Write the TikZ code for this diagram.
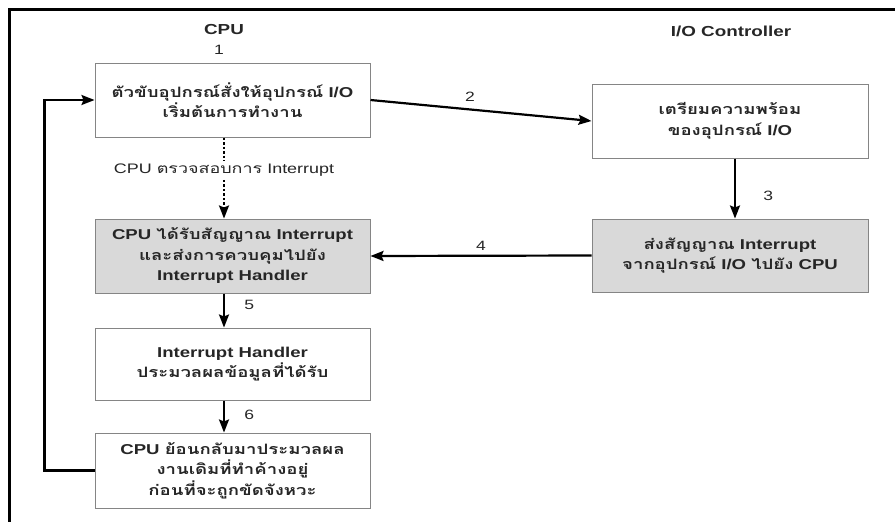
\documentclass[tikz,border=0pt]{standalone}
\usepackage{fontspec}
\setmainfont{Liberation Sans}[FakeStretch=1.3]
\newfontfamily\thf[Script=Thai,FakeStretch=1.3]{Loma}
\usetikzlibrary{arrows.meta}
\definecolor{boxline}{HTML}{858585}
\definecolor{boxgrey}{HTML}{D9D9D9}
\tikzset{
  box/.style={draw=boxline, line width=1pt, minimum width=275pt, align=center,
    font=\fontsize{14.3}{20.5}\selectfont\bfseries, text=black!85},
  greybox/.style={box, fill=boxgrey},
  arr/.style={line width=2.2pt, -{Stealth[length=13pt,width=10pt,inset=2pt]}},
  dashln/.style={line width=2.2pt, dash pattern=on 2.5pt off 2pt},
  dasharr/.style={dashln, -{Stealth[length=13pt,width=10pt,inset=2pt]}},
  head/.style={font=\fontsize{14.5}{16}\selectfont\bfseries, text=black!85},
  num/.style={font=\fontsize{13.5}{15}\selectfont, text=black!85},
  lbl/.style={font=\fontsize{13.8}{16}\selectfont, text=black!85}
}
\begin{document}
\begin{tikzpicture}[x=1pt,y=-1pt]
\useasboundingbox (0,0) rectangle (895,522);
\fill[white] (0,0) rectangle (895,522);
\draw[line width=3pt] (9,522) -- (9,9) -- (895,9);

\coordinate (cx) at (224,0);
\coordinate (ix) at (735,0);

\node[head] (hcpu) at (224,30) {CPU};
\node[head] (hio) at (731,31) {I/O Controller};
\node[num] (n1) at (219,50) {1};

\node[box, minimum height=74pt] (b1) at (232.5,100)
  {{\thf ตัวขับอุปกรณ์สั่งให้อุปกรณ์} I/O\\{\thf เริ่มต้นการทำงาน}};
\node[box, minimum height=74pt, minimum width=276pt] (b2) at (730,121)
  {{\thf เตรียมความพร้อม}\\{\thf ของอุปกรณ์} I/O};
\node[greybox, minimum height=73pt, minimum width=276pt] (b4) at (730,255.5)
  {{\thf ส่งสัญญาณ} Interrupt\\{\thf จากอุปกรณ์} I/O {\thf ไปยัง} CPU};
\node[greybox, minimum height=74pt] (b3) at (232.5,256)
  {CPU {\thf ได้รับสัญญาณ} Interrupt\\{\thf และส่งการควบคุมไปยัง}\\Interrupt Handler};
\node[box, minimum height=72pt] (b5) at (232.5,364)
  {Interrupt Handler\\{\thf ประมวลผลข้อมูลที่ได้รับ}};
\node[box, minimum height=75pt] (b6) at (232.5,470.5)
  {CPU {\thf ย้อนกลับมาประมวลผล}\\{\thf งานเดิมที่ทำค้างอยู่}\\{\thf ก่อนที่จะถูกขัดจังหวะ}};

\node[lbl] (chk) at (224,170) {CPU {\thf ตรวจสอบการ} Interrupt};

\draw[arr] (b1.east) -- node[num, above=4pt, pos=0.45] (n2) {2} (b2.west);
\draw[arr] (b2.south -| ix) -- node[num, right=24pt, pos=0.62] (n3) {3} (b4.north -| ix);
\draw[arr] (b4.west) -- node[num, above=1pt, pos=0.5] (n4) {4} (b3.east);
\draw[dashln] (b1.south -| cx) -- (chk.north -| cx);
\draw[dasharr] (chk.south -| cx) -- (b3.north -| cx);
\draw[arr] (b3.south -| cx) -- node[num, right=16pt, pos=0.35] (n5) {5} (b5.north -| cx);
\draw[arr] (b5.south -| cx) -- node[num, right=16pt, pos=0.45] (n6) {6} (b6.north -| cx);
\draw[arr] (b6.west) -- ++(-50,0) |- (b1.west);
\end{tikzpicture}
\end{document}
